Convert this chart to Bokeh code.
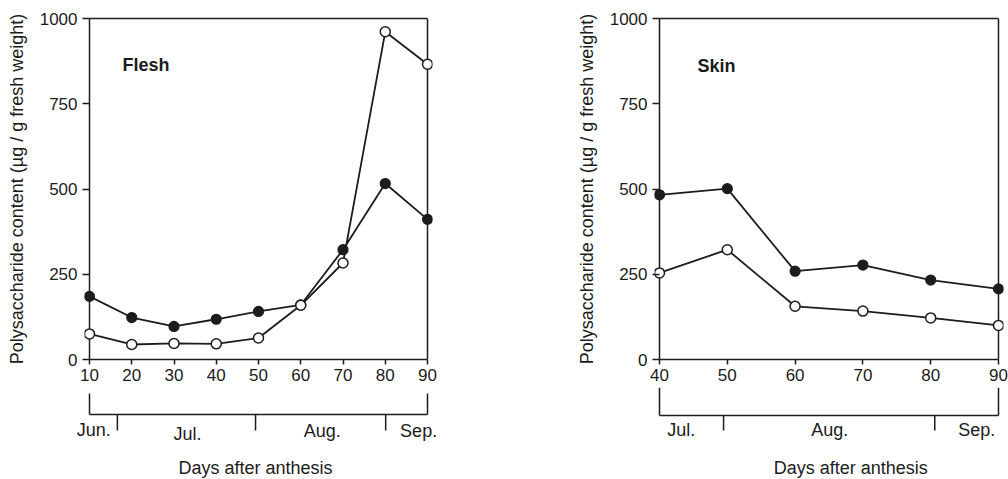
from bokeh.plotting import figure
from bokeh.layouts import row, column
from bokeh.models import Range1d, LinearAxis, FixedTicker
from bokeh.core.properties import value
from bokeh.embed import file_html
from bokeh.resources import INLINE

FONT = "Liberation Sans"
INK = "#1c1c1c"

# ---- data ----
flesh_days = [10, 20, 30, 40, 50, 60, 70, 80, 90]
flesh_filled = [185, 123, 97, 118, 141, 160, 322, 516, 411]
flesh_open = [75, 44, 47, 46, 63, 159, 283, 961, 866]

skin_days = [40, 50, 60, 70, 80, 90]
skin_filled = [483, 501, 259, 277, 233, 207]
skin_open = [254, 322, 156, 142, 122, 100]

y_ticks = [0, 250, 500, 750, 1000]

flesh_months = ["Jun.", "Jul.", "Aug.", "Sep."]
flesh_month_x = [11.0, 33.2, 65.1, 87.9]
flesh_month_bounds = [16.6, 49.3, 80.1]

skin_months = ["Jul.", "Aug.", "Sep."]
skin_month_x = [43.2, 65.1, 86.8]
skin_month_bounds = [49.45, 80.6]

Y_LABEL = "Polysaccharide content (µg / g fresh weight)"
X_LABEL = "Days after anthesis"

MAIN_H = 387
BRACKET_H = 92
BORDER_L = 84
BORDER_T = 18
PAD_PX = 5


def style_axis(ax, tick_out, tick_in, standoff):
    ax.axis_line_color = INK
    ax.axis_line_width = 1.5
    ax.major_tick_line_color = INK
    ax.major_tick_line_width = 1.5
    ax.major_tick_out = tick_out
    ax.major_tick_in = tick_in
    ax.minor_tick_line_color = None
    ax.major_label_text_font = FONT
    ax.major_label_text_font_size = "17px"
    ax.major_label_text_color = INK
    ax.major_label_standoff = standoff


def panel(days, filled, opened, title, title_x, title_y, months, month_x,
          bounds, fig_w, span_px, bracket_top, bracket_h, div_end, month_y,
          xlabel_x):
    x0, x1 = days[0], days[-1]
    scale = span_px / (x1 - x0)
    pad = PAD_PX / scale
    frame_w = span_px + 2 * PAD_PX
    border_r = fig_w - BORDER_L - frame_w
    xr = Range1d(x0 - pad, x1 + pad)

    p = figure(width=fig_w, height=MAIN_H, x_range=xr, y_range=Range1d(0, 1000),
               output_backend="svg", toolbar_location=None,
               x_axis_type=None, y_axis_type=None,
               min_border_left=BORDER_L, min_border_right=border_r,
               min_border_top=BORDER_T, min_border_bottom=28)
    p.outline_line_color = None
    p.background_fill_color = "white"
    p.border_fill_color = "white"

    xa = LinearAxis(ticker=FixedTicker(ticks=days), bounds=(x0, x1))
    style_axis(xa, 5, 0, 4)
    p.add_layout(xa, "below")

    ya = LinearAxis(ticker=FixedTicker(ticks=y_ticks), bounds=(0, 1000),
                    axis_label=Y_LABEL)
    style_axis(ya, 2, PAD_PX, 5)
    ya.axis_line_color = None
    ya.axis_label_text_font = FONT
    ya.axis_label_text_font_size = "18px"
    ya.axis_label_text_font_style = "normal"
    ya.axis_label_text_color = INK
    ya.axis_label_standoff = 10
    p.add_layout(ya, "left")

    ta = LinearAxis(ticker=FixedTicker(ticks=[]), bounds=(x0, x1))
    style_axis(ta, 0, 0, 0)
    ta.major_label_text_font_size = "0px"
    p.add_layout(ta, "above")

    # side edges of the box at the first and last day
    p.segment(x0=[x0, x1], y0=[y_ticks[0]] * 2, x1=[x0, x1], y1=[y_ticks[-1]] * 2,
              line_color=INK, line_width=1.5)

    p.line(days, filled, line_color=INK, line_width=1.8)
    p.line(days, opened, line_color=INK, line_width=1.8)
    p.scatter(days, filled, marker="circle", size=10, fill_color=INK,
              line_color=INK, line_width=1.2)
    p.scatter(days, opened, marker="circle", size=10, fill_color="white",
              line_color=INK, line_width=1.5)

    p.text(x=[title_x], y=[title_y], text=[title], text_font=value(FONT),
           text_font_size=value("18px"), text_font_style="bold",
           text_color=INK, text_align="left", text_baseline="middle")

    # month bracket beneath the axis: same day scale, frame spans full width
    bx0 = x0 - (BORDER_L + PAD_PX) / scale
    bx1 = bx0 + fig_w / scale
    b = figure(width=fig_w, height=BRACKET_H, x_range=Range1d(bx0, bx1),
               y_range=Range1d(BRACKET_H, 0),
               output_backend="svg", toolbar_location=None,
               x_axis_type=None, y_axis_type=None,
               min_border_left=0, min_border_right=0,
               min_border_top=0, min_border_bottom=0)
    b.outline_line_color = None
    b.background_fill_color = "white"
    b.border_fill_color = "white"

    sx0 = [x0, x1, x0] + list(bounds)
    sx1 = [x0, x1, x1] + list(bounds)
    sy0 = [bracket_top, bracket_top, bracket_h] + [bracket_h] * len(bounds)
    sy1 = [bracket_h, bracket_h, bracket_h] + [div_end] * len(bounds)
    b.segment(x0=sx0, y0=sy0, x1=sx1, y1=sy1, line_color=INK, line_width=1.5)

    b.text(x=month_x, y=month_y, text=months, text_font=value(FONT),
           text_font_size=value("18px"), text_color=INK,
           text_align="center", text_baseline="middle")
    b.text(x=[xlabel_x], y=[80], text=[X_LABEL], text_font=value(FONT),
           text_font_size=value("18px"), text_color=INK,
           text_align="center", text_baseline="middle")
    return p, b


p1, b1 = panel(flesh_days, flesh_filled, flesh_open, "Flesh", 17.8, 865,
               flesh_months, flesh_month_x, flesh_month_bounds,
               570, 338, 6, 27, 43, [42, 46, 43, 43], 49.3)
p2, b2 = panel(skin_days, skin_filled, skin_open, "Skin", 45.6, 860,
               skin_months, skin_month_x, skin_month_bounds,
               438, 339, 0, 28, 43, [42, 42, 42], 68.2)

layout = column(row(p1, p2), row(b1, b2))

open("out.html", "w").write(file_html(layout, INLINE))
